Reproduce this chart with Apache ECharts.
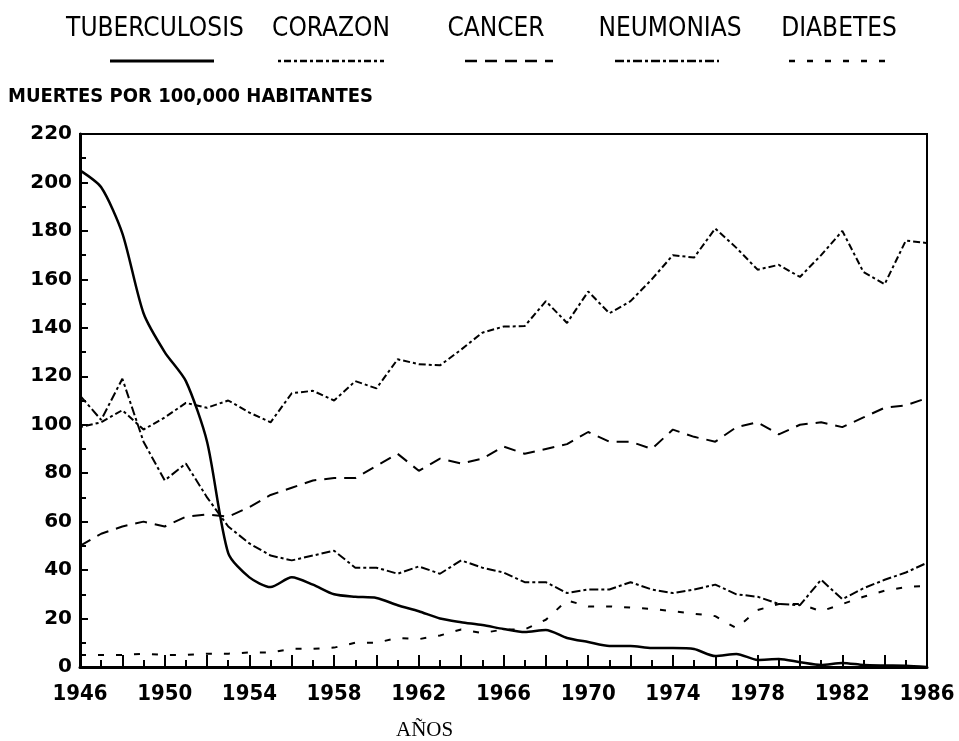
<!DOCTYPE html>
<html>
<head>
<meta charset="utf-8">
<title>Muertes por 100,000 habitantes</title>
<script src="https://cdn.jsdelivr.net/npm/echarts@6/dist/echarts.min.js"></script>
<style>
  html, body { margin: 0; padding: 0; background: #fff; }
  #chart { width: 959px; height: 741px; }
</style>
</head>
<body>
<div id="chart"></div>
<script>
// datos
const years = [];
for (let y = 1946; y <= 1986; y++) years.push(y);

const tuberculosis = [205, 198, 179, 146, 130, 118, 93, 47, 37, 33, 37, 34, 30, 29, 28.5, 25.5, 23, 20, 18.5, 17.3, 15.7, 14.4, 15.3, 12, 10.3, 8.7, 8.7, 7.8, 7.8, 7.4, 4.5, 5.4, 2.9, 3.3, 2, 0.8, 1.7, 0.8, 0.6, 0.5, 0];
const corazon = [99, 101, 106, 98, 103, 109, 107, 110, 105, 101, 113, 114, 110, 118, 115, 127, 125, 124.5, 131, 138, 140.5, 140.7, 151, 142, 155, 146, 151, 160, 170, 169, 181, 173, 164, 166, 161, 170, 180, 163, 158, 176, 175];
const cancer = [50, 55, 58, 60, 58, 62, 63, 62, 66, 71, 74, 77, 78, 78, 83, 88, 81, 86, 84, 86, 91, 88, 90, 92, 97, 93, 93, 90, 98, 95, 93, 99, 101, 96, 100, 101, 99, 103, 107, 108, 111];
const neumonias = [112, 102, 119, 93, 77, 84, 70, 58, 51, 46, 44, 46, 48, 41, 41, 38.5, 41.5, 38.5, 44, 41, 39, 35, 35, 30.5, 32, 32, 35, 32, 30.5, 32, 34, 30, 29, 26, 25.5, 36, 28, 32.5, 36, 39, 43];
const diabetes = [5, 5, 5, 5.5, 5, 5, 5.5, 5.5, 6, 6, 7.5, 7.5, 8, 10, 10, 12, 11.5, 13, 15.5, 14, 15.5, 15.5, 19.5, 27.5, 25, 25, 24.5, 24, 23, 22, 21, 16, 23.5, 26, 26, 23, 26, 29, 31.5, 33, 33.5];

const names = ['TUBERCULOSIS', 'CORAZON', 'CANCER', 'NEUMONIAS', 'DIABETES'];
const seriesData = [tuberculosis, corazon, cancer, neumonias, diabetes];
const dashes = ['solid', [3, 3, 7, 3], [12, 8], [9, 3, 3, 3], [6, 12]];

// posiciones de la leyenda (texto arriba, linea abajo)
const legendTextX = [155, 331, 496, 670, 839];
const legendLineX = [[110, 214], [278, 384], [465, 553], [615, 719], [789, 896]];

const font = '"Liberation Sans Narrow", "DejaVu Sans Condensed", "Liberation Sans", sans-serif';

let chart = echarts.init(document.getElementById('chart'));

let graphics = [];
names.forEach(function (n, i) {
    graphics.push({
        type: 'text',
        x: legendTextX[i],
        y: 16,
        style: {
            text: n, align: 'center', verticalAlign: 'top',
            font: '26px ' + font, fill: '#000'
        }
    });
    graphics.push({
        type: 'line',
        shape: { x1: legendLineX[i][0], y1: 61, x2: legendLineX[i][1], y2: 61 },
        style: { stroke: '#000', lineWidth: i === 0 ? 3 : 2.5, lineDash: dashes[i] === 'solid' ? null : dashes[i] }
    });
});
graphics.push({
    type: 'text', left: 8, top: 87,
    style: { text: 'MUERTES POR 100,000 HABITANTES', font: 'bold 20px ' + font, fill: '#000' }
});
graphics.push({
    type: 'text', left: 396, top: 720,
    style: { text: 'AÑOS', font: '21px "Liberation Serif", "DejaVu Serif", serif', fill: '#000' }
});

let option = {
    backgroundColor: '#fff',
    animation: false,
    grid: {
        left: 80, right: 32, top: 134, bottom: 74,
        show: true, borderColor: '#000', borderWidth: 2
    },
    graphic: graphics,
    xAxis: {
        type: 'value',
        min: 1946, max: 1986, interval: 2,
        axisLine: { lineStyle: { color: '#000', width: 3 } },
        axisTick: { inside: true, length: 12, lineStyle: { color: '#000', width: 2 } },
        minorTick: { show: true, splitNumber: 2, length: 7, lineStyle: { color: '#000', width: 2 } },
        splitLine: { show: false },
        axisLabel: {
            color: '#000', margin: 16,
            fontFamily: '"DejaVu Sans Condensed", "DejaVu Sans", sans-serif',
            fontWeight: 'bold', fontSize: 22,
            formatter: function (v) { return (v - 1946) % 4 === 0 ? String(v) : ''; }
        }
    },
    yAxis: {
        type: 'value',
        min: 0, max: 220, interval: 20,
        axisLine: { show: true, lineStyle: { color: '#000', width: 3 } },
        axisTick: { show: true, inside: true, length: 8, lineStyle: { color: '#000', width: 2 } },
        minorTick: { show: true, splitNumber: 2, length: 6, lineStyle: { color: '#000', width: 2 } },
        splitLine: { show: false },
        axisLabel: {
            color: '#000', margin: 8,
            fontFamily: '"DejaVu Sans", sans-serif', fontWeight: 'bold', fontSize: 20
        }
    },
    series: names.map(function (n, i) {
        return {
            name: n,
            type: 'line',
            data: years.map(function (y, k) { return [y, seriesData[i][k]]; }),
            showSymbol: false,
            smooth: i === 0 ? 0.25 : false,
            lineStyle: { color: '#000', width: i === 0 ? 2.5 : 2, type: dashes[i] }
        };
    })
};

chart.setOption(option);
</script>
</body>
</html>
